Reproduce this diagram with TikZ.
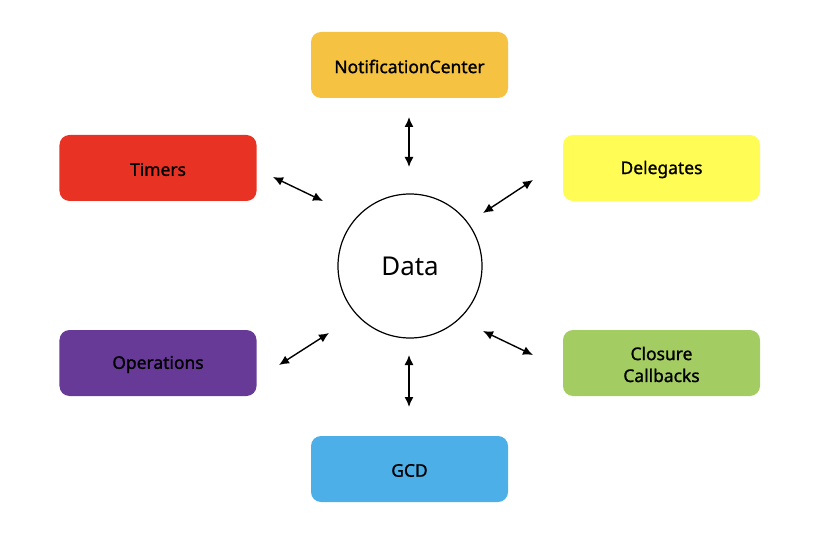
\documentclass[tikz,border=0pt]{standalone}
\usepackage{fontspec}
\setmainfont{Noto Sans}
\newfontfamily\boxfont{Noto Sans}[BoldFont={Noto Sans},BoldFeatures={FakeBold=1.2}]
\usetikzlibrary{arrows.meta}
\definecolor{cNC}{HTML}{F5C242}
\definecolor{cTim}{HTML}{E83324}
\definecolor{cDel}{HTML}{FFFC55}
\definecolor{cOp}{HTML}{683A98}
\definecolor{cCl}{HTML}{A3CD62}
\definecolor{cGCD}{HTML}{4DAFE8}
\tikzset{
  box/.style={rounded corners=10bp, minimum width=197bp, minimum height=66bp, inner sep=0pt,
    align=center, font=\boxfont\bfseries\fontsize{17.5}{22}\selectfont, text=black},
  lbl/.style={font=\boxfont\bfseries\fontsize{17.5}{22}\selectfont, align=center, inner sep=0pt, text=black},
  link/.style={{Latex[length=10bp,width=9bp]}-{Latex[length=10bp,width=9bp]}, line width=1.4bp, black},
}
\begin{document}
\begin{tikzpicture}[x=1bp,y=-1bp]
\useasboundingbox (0,0) rectangle (818,540);
\node[box, fill=cNC] (nc) at (409.5,65) {};
\node[lbl] (ncl) at (409.5,66.5) {NotificationCenter};
\node[box, fill=cTim] (tim) at (158,168) {};
\node[lbl] (timl) at (158,169.5) {Timers};
\node[box, fill=cDel] (del) at (661.5,168) {};
\node[lbl] (dell) at (661.5,169.5) {Delegates};
\node[box, fill=cOp] (op) at (158,363) {};
\node[lbl] (opl) at (158,364.5) {Operations};
\node[box, fill=cCl] (cl) at (661.5,363) {};
\node[lbl] (cll) at (661.5,364.5) {Closure\\Callbacks};
\node[box, fill=cGCD] (gcd) at (409.5,469) {};
\node[lbl] (gcdl) at (409.5,470.5) {GCD};
\node[draw, circle, line width=1.2bp, minimum size=144bp, inner sep=0pt,
  font=\fontsize{26}{30}\selectfont] (data) at (410,266) {Data};
\coordinate (a1) at (409,117); \coordinate (b1) at (409,167);
\coordinate (a2) at (273,177); \coordinate (b2) at (323,201);
\coordinate (a3) at (533,180); \coordinate (b3) at (483,213);
\coordinate (a4) at (279,365); \coordinate (b4) at (329,333);
\coordinate (a5) at (483,331); \coordinate (b5) at (533,355);
\coordinate (a6) at (409,355); \coordinate (b6) at (409,407);
\foreach \i in {1,...,6} \draw[link] (a\i) -- (b\i);
\end{tikzpicture}
\end{document}
